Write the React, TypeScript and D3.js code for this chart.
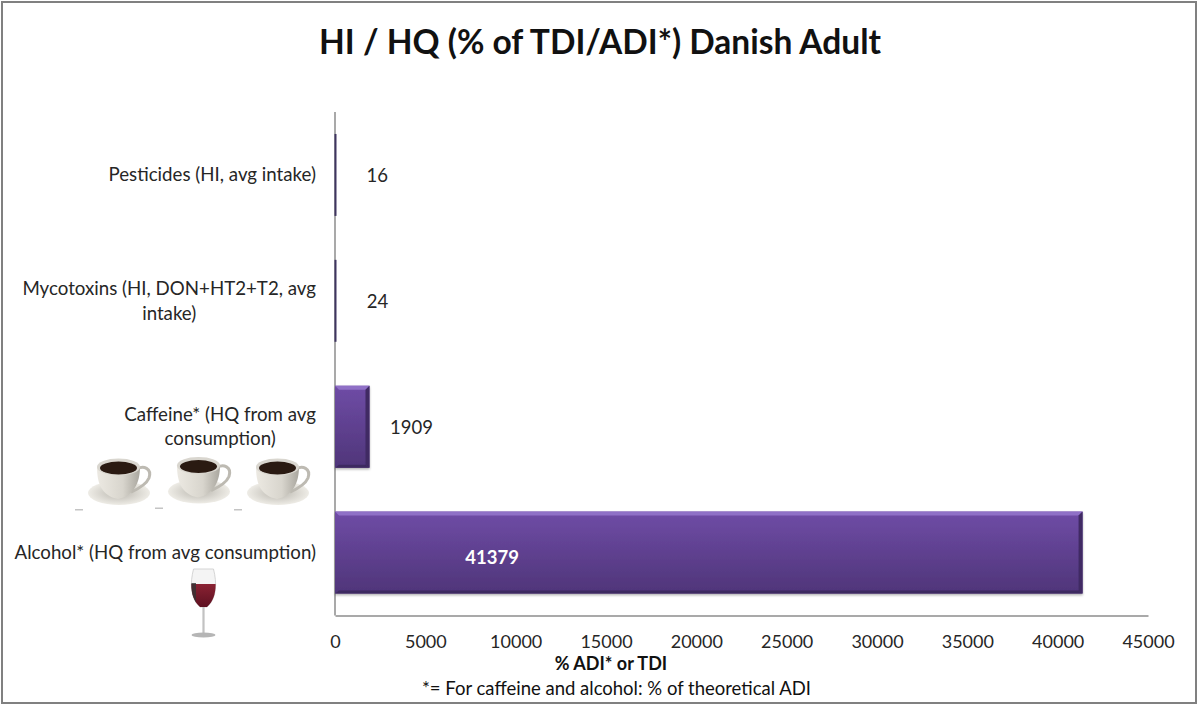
import * as React from 'react'
import * as d3 from 'd3'

const width = 1200
const height = 707
const margin = { top: 112, right: 52, bottom: 91.5, left: 335 }
const font = 'Lato, "Open Sans", sans-serif'
const textColor = '#262626'
const labelSize = 18.7

const categories = ['Pesticides', 'Mycotoxins', 'Caffeine', 'Alcohol']
const values = [16, 24, 1909, 41379]
const categoryLines = [
  ['Pesticides (HI, avg intake)'],
  ['Mycotoxins (HI, DON+HT2+T2, avg', 'intake)'],
  ['Caffeine* (HQ from avg', 'consumption)'],
  ['Alcohol* (HQ from avg consumption)'],
]
const xTicks = [0, 5000, 10000, 15000, 20000, 25000, 30000, 35000, 40000, 45000]
const cupSpots = [[88, 458], [168, 456.5], [247, 458]]

const xScale = d3
  .scaleLinear()
  .domain([0, 45000])
  .range([margin.left, width - margin.right])
const yScale = d3
  .scaleBand()
  .domain(categories)
  .range([margin.top, height - margin.bottom])
  .paddingInner(0.349)
  .paddingOuter(0.1745)

// widest line of a wrapped label, so the block can sit flush against the axis
const measure = document.createElement('canvas').getContext('2d')
const lineWidth = (s: string) => {
  measure.font = `${labelSize}px Lato`
  return measure.measureText(s).width
}

const Cup = ({ x, y }: any) => (
  <g transform={`translate(${x}, ${y})`}>
    <ellipse cx={31} cy={35} rx={31} ry={12} fill="url(#saucer)" />
    <path
      d="M47 12 C56 6 64 11 61 20 C58 27 50 31 43 34"
      fill="none"
      stroke="#bdbab2"
      strokeWidth={3}
    />
    <path
      d="M9 9 C9 24 13 38 30 41 C46 38 52 24 52 9 Z"
      fill="url(#cupBody)"
    />
    <ellipse cx={30.5} cy={9} rx={21.5} ry={8.5} fill="#d9d6cf" />
    <ellipse cx={30.5} cy={10} rx={18.5} ry={6.5} fill="#2a1a12" />
    <rect x={-13} y={51} width={8} height={1.5} fill="#c4c4c4" />
  </g>
)

const WineGlass = ({ x, y }: any) => (
  <g transform={`translate(${x}, ${y})`}>
    <clipPath id="bowl">
      <path d="M2.5 0 L22.5 0 C26 14 26 29 16 38 L9 38 C-1 29 -1 14 2.5 0 Z" />
    </clipPath>
    <path
      d="M2.5 0 L22.5 0 C26 14 26 29 16 38 L9 38 C-1 29 -1 14 2.5 0 Z"
      fill="#f4f4f4"
      stroke="#c4c4c4"
      strokeWidth={0.7}
    />
    <g clipPath="url(#bowl)">
      <rect x={-1} y={15} width={28} height={24} fill="url(#wine)" />
      <rect x={-1} y={14} width={6} height={20} fill="#333" opacity={0.8} />
    </g>
    <rect x={11.4} y={38} width={2.2} height={26} fill="#c2c2c2" />
    <ellipse cx={12.5} cy={66} rx={12} ry={2.4} fill="#b5b5b5" />
  </g>
)

const App = () => {
  const xRef = React.useRef(null)

  React.useEffect(() => {
    const axis = d3
      .axisBottom(xScale)
      .tickValues(xTicks)
      .tickSize(0)
      .tickPadding(20)
      .tickFormat(d3.format('d'))
    const g = d3.select(xRef.current).call(axis)
    g.select('.domain').attr('stroke', '#8c8c8c').attr('stroke-width', 1.5)
    g.selectAll('text')
      .attr('font-family', font)
      .attr('font-size', 18)
      .attr('fill', textColor)
  }, [])

  const axisY = height - margin.bottom

  return (
    <svg
      width={width}
      height={height}
      style={{ position: 'absolute', left: 0, top: 0, background: '#fff' }}
    >
      <defs>
        <linearGradient id="barFill" x1="0" y1="0" x2="0" y2="1">
          <stop offset="0" stopColor="#6f4ca6" />
          <stop offset="1" stopColor="#4f3579" />
        </linearGradient>
        <linearGradient id="cupBody" x1="0" y1="0" x2="1" y2="0">
          <stop offset="0" stopColor="#ece9e2" />
          <stop offset="0.6" stopColor="#d8d5cd" />
          <stop offset="1" stopColor="#a9a69e" />
        </linearGradient>
        <radialGradient id="saucer">
          <stop offset="0" stopColor="#b9b6ae" />
          <stop offset="1" stopColor="#eeece6" />
        </radialGradient>
        <linearGradient id="wine" x1="0" y1="0" x2="0" y2="1">
          <stop offset="0" stopColor="#8a2233" />
          <stop offset="1" stopColor="#5c1020" />
        </linearGradient>
        <filter id="barShadow" x="-5%" y="-5%" width="110%" height="115%">
          <feDropShadow dx="0" dy="1.5" stdDeviation="1.2" floodColor="#000" floodOpacity="0.3" />
        </filter>
      </defs>

      <rect x={2} y={2} width={1194} height={701} fill="#fff" stroke="#808080" strokeWidth={2} />

      <text
        x={600}
        y={53.5}
        textAnchor="middle"
        fontFamily={font}
        fontWeight={700}
        fontSize={33.5}
        fill="#111"
      >
        HI / HQ (% of TDI/ADI*) Danish Adult
      </text>

      <line
        x1={xScale(0)}
        x2={xScale(0)}
        y1={margin.top}
        y2={axisY}
        stroke="#8c8c8c"
        strokeWidth={1.5}
      />

      {categories.map((c, i) => {
        const y0 = yScale(c) as number
        const h = yScale.bandwidth()
        const x0 = xScale(0)
        const x1 = xScale(values[i])
        if (x1 - x0 < 2) {
          // too thin for the bevel: only a dark sliver shows
          return <rect key={c} x={x0 - 0.5} y={y0} width={2} height={h} fill="#3f3560" />
        }
        const bevel = Math.min(4, (x1 - x0) / 2)
        return (
          <g key={c} filter="url(#barShadow)">
            <rect x={x0} y={y0} width={x1 - x0} height={h} fill="url(#barFill)" />
            <polygon
              points={`${x0},${y0} ${x1},${y0} ${x1 - bevel},${y0 + 4} ${x0 + bevel},${y0 + 4}`}
              fill="#8f6fc6"
            />
            <polygon
              points={`${x1},${y0} ${x1},${y0 + h} ${x1 - bevel},${y0 + h - 3} ${x1 - bevel},${y0 + 4}`}
              fill="#3f2a63"
            />
            <polygon
              points={`${x0},${y0 + h} ${x1},${y0 + h} ${x1 - bevel},${y0 + h - 3} ${x0 + bevel},${y0 + h - 3}`}
              fill="#3d2960"
            />
          </g>
        )
      })}

      <g ref={xRef} transform={`translate(0, ${axisY})`} />

      {categoryLines.map((lines, i) => {
        const mid = (yScale(categories[i]) as number) + yScale.bandwidth() / 2
        const widest = d3.max(lines, lineWidth) as number
        return (
          <text
            key={i}
            textAnchor="middle"
            fontFamily={font}
            fontSize={labelSize}
            fill={textColor}
          >
            {lines.map((line, j) => (
              <tspan
                key={line}
                x={316 - widest / 2}
                y={mid + 6.5 + (j - (lines.length - 1) / 2) * 24.5}
              >
                {line}
              </tspan>
            ))}
          </text>
        )
      })}

      {categories.map((c, i) => {
        const inside = i === categories.length - 1
        const mid = (yScale(c) as number) + yScale.bandwidth() / 2
        return (
          <text
            key={c}
            x={inside ? xScale(8700) : xScale(values[i]) + 42}
            y={mid + (inside ? 11 : 7)}
            textAnchor="middle"
            fontFamily={font}
            fontSize={18.5}
            fontWeight={inside ? 700 : 400}
            fill={inside ? '#fff' : textColor}
          >
            {values[i]}
          </text>
        )
      })}

      {cupSpots.map(([x, y]) => (
        <Cup key={x} x={x} y={y} />
      ))}
      <WineGlass x={191} y={569} />

      <text
        x={611}
        y={670}
        textAnchor="middle"
        fontFamily={font}
        fontWeight={700}
        fontSize={18}
        fill="#111"
      >
        % ADI* or TDI
      </text>
      <text
        x={616.5}
        y={695}
        textAnchor="middle"
        fontFamily={font}
        fontSize={18.5}
        fill="#111"
      >
        *= For caffeine and alcohol: % of theoretical ADI
      </text>
    </svg>
  )
}

export default App
